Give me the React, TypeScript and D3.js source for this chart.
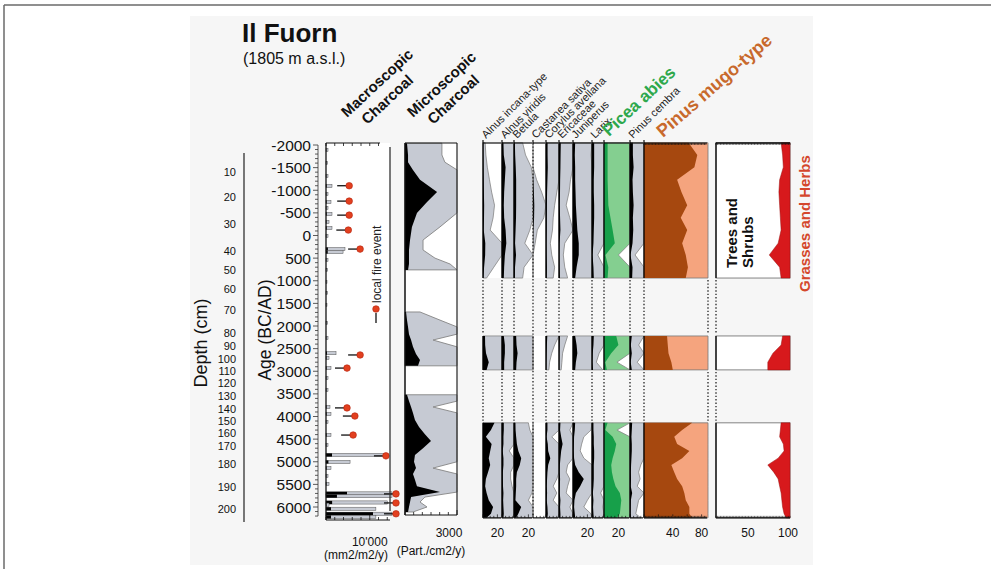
import * as d3 from 'd3'

const FONT = '"Liberation Sans", Arial, Helvetica, sans-serif'

// ---------- axis labels ----------
const ageTicks = [-2000, -1500, -1000, -500, 0, 500, 1000, 1500, 2000, 2500, 3000, 3500, 4000, 4500, 5000, 5500, 6000]
const depthTicks = [10, 20, 30, 40, 50, 60, 70, 80, 90, 100, 110, 120, 130, 140, 150, 160, 170, 180, 190, 200]
// age (BC/AD) at which each depth label sits
const depthTickAges = [-1400, -850, -250, 340, 760, 1180, 1640, 2155, 2440, 2720, 2995, 3270, 3545, 3825, 4100, 4375, 4650, 5050, 5560, 6040]

// ---------- macroscopic charcoal (mm2/m2/y) ----------
const macroAges = [-1890, -1600, -1315, -1095, -915, -740, -610, -475, -300, -165, 10, 300, 365, 540, 760, 1030, 1270, 1535, 1935, 2265, 2600, 2705, 2930, 3150, 3415, 3790, 3945, 4120, 4410, 4630, 4850, 5005, 5140, 5315, 5490, 5700, 5760, 5900, 5950, 6040, 6150, 6220]
const macroInflux = [46, 34, 46, 137, 46, 114, 46, 137, 69, 137, 46, 434, 390, 46, 34, 23, 34, 23, 34, 46, 229, 69, 114, 46, 46, 91, 114, 46, 114, 46, 1371, 550, 114, 46, 69, 4800, 2500, 1400, 69, 1140, 10740, 1140]
const fireAges = [-1100, -760, -450, -120, 300, 2640, 2930, 3810, 3990, 4410, 4870, 5710, 5910, 6150]
const firePeaks = [5300, 5300, 5300, 5100, 7800, 7800, 4800, 4800, 6600, 6200, 13700, 16000, 16000, 16000]

// ---------- microscopic charcoal (Part./cm2/y) ----------
const microAges = [-2040, -1780, -1620, -1450, -1230, -960, -740, -500, -190, 100, 320, 500, 630, 760,
  1690, 1870, 2020, 2180, 2310, 2460, 2620, 2750, 2880,
  3520, 3660, 3790, 3920, 4080, 4230, 4390, 4540, 4700, 4850, 5000, 5140, 5270, 5400, 5540, 5670, 5780, 5890, 6000, 6110]
const microInflux = [115, 175, 175, 460, 865, 1850, 1270, 690, 400, 290, 230, 230, 230, 175,
  60, 115, 175, 230, 350, 460, 635, 865, 750,
  115, 230, 350, 460, 575, 810, 1150, 1500, 1040, 575, 520, 635, 460, 575, 690, 2020, 350, 290, 230, 175]
const microConc = [2130, 2130, 2300, 3000, 3000, 3000, 3000, 3000, 2020, 1040, 1040, 1730, 2600, 3000,
  865, 2020, 3000, 3000, 1615, 3000, 3000, 3000, 3000,
  3000, 3000, 1615, 3000, 3000, 3000, 3000, 3000, 3000, 3000, 3000, 1615, 3000, 3000, 3000, 3000, 1150, 865, 1270, 460]

// ---------- pollen percentages ----------
const pollenAges = [-2050, -1780, -1510, -1230, -960, -670, -390, -120, 170, 430, 700, 940,
  2220, 2420, 2600, 2800, 2970,
  4140, 4300, 4450, 4610, 4760, 4920, 5070, 5230, 5380, 5540, 5690, 5850, 6000, 6150, 6240]
const alnusIncana = [0.3, 0.4, 0.6, 0.9, 1.2, 1.6, 1.4, 1.0, 3.2, 3.0, 1.5, 0.5, 2.8, 3, 4.2, 8, 5, 16, 11, 4, 12, 10, 8, 10, 7, 4, 3, 5, 8, 14, 11, 5]
const alnusViridis = [2, 2.5, 5, 4, 3, 2.5, 3, 5, 6, 4, 3, 2.5, 2.5, 4, 4, 3, 3, 2.5, 2.5, 2, 2, 1.0, 2, 2, 1.2, 1.2, 1.4, 2, 1.6, 2, 2.5, 2]
const betula = [1.2, 1.6, 2.4, 3, 3, 3, 2.8, 2.2, 1.5, 2.8, 1.4, 1.2, 3, 3.5, 5, 3.5, 3, 2, 2.2, 3, 4, 6, 10, 8, 4, 3, 3, 2.5, 2, 10, 6, 3]
const castanea = [0, 0, 0, 0.5, 1.2, 1.8, 1.5, 0.6, 0.3, 0, 0, 0, 0, 0, 0, 0, 0, 0, 0, 0, 0, 0, 0, 0, 0, 0, 0, 0, 0, 0, 0, 0]
const corylus = [2.2, 2.2, 2.5, 2, 1.5, 1.2, 1, 0.9, 0.6, 0.8, 1.2, 1, 1.8, 1.2, 0.8, 0.5, 0.4, 2, 2, 0.8, 2.5, 3, 6, 3, 2, 1.5, 1, 1.5, 1, 2, 2.5, 2]
const ericaceae = [2.5, 2.2, 2, 1.6, 1.4, 1.0, 1.5, 2, 0.8, 0.6, 0.8, 1.2, 1.2, 0.8, 0.5, 0.4, 0.3, 2, 1.5, 3, 5, 3, 2, 1.2, 1, 1.5, 1.2, 1, 2, 1.5, 2, 2]
const juniperus = [3, 2.5, 3, 3, 3.5, 4, 5, 6, 8, 8, 5, 3, 3, 5, 6, 4, 3, 3, 2.5, 1.5, 1.2, 1, 1.5, 3, 8, 15, 10, 4, 2, 1.5, 2.5, 3]
const larix = [3, 3, 3, 2.5, 2.5, 3, 3, 2.5, 2, 0.8, 2, 2.5, 2.5, 2, 1, 0.6, 1.5, 2, 2, 2.5, 2.5, 3, 3, 2.5, 2.5, 2.5, 2, 1.2, 2, 1.5, 2, 2.5]
const picea = [5, 5, 5, 5, 5.5, 6, 9, 12, 15, 2, 6, 5, 17, 20, 10, 1.8, 4, 5, 1.8, 12, 17, 15, 12, 10, 11, 13, 16, 22, 24, 23, 22, 18]
const pinusCembra = [4, 4, 5, 3.5, 4, 5, 4, 4.5, 3.5, 0.7, 3.5, 3, 2.5, 1.2, 2.5, 1, 2.5, 3, 2.5, 2, 2.5, 2.5, 2, 1.5, 1.2, 1.4, 1.0, 3, 1.2, 1, 0.8, 1.5]
const pinusMugo = [62, 74, 70, 46, 52, 60, 51, 60, 53, 58, 61, 58, 32, 33, 34, 38, 40, 67, 53, 42, 46, 63, 53, 38, 42, 46, 53, 56, 58, 63, 63, 67]
const herbs = [12, 10, 9, 14, 15, 14, 13, 12, 16, 28, 14, 12, 10, 12, 23, 30, 30, 12, 13, 14, 9, 8, 16, 30, 22, 16, 14, 12, 11, 10, 8, 5]

type Pt = [number, number]

function splitSections(ages: number[], values: number[]): Pt[][] {
  const out: Pt[][] = []
  ages.forEach((a, i) => {
    if (i === 0 || a - ages[i - 1] > 600) out.push([])
    out[out.length - 1].push([a, values[i]])
  })
  return out
}

const GRAY = '#c6cad3'
const GRAY_LINE = '#858585'

export default function App() {
  const y = d3.scaleLinear().domain([-2000, 6000]).range([145, 507])
  const macroX = d3.scaleLinear().domain([0, 16000]).range([326, 396])
  const microX = d3.scaleLinear().domain([0, 3000]).range([405, 457])
  const herbX = d3.scaleLinear().domain([0, 100]).range([716, 790])

  const vArea = (x0: (d: Pt) => number, x1: (d: Pt) => number) =>
    d3.area<Pt>().y(d => y(d[0])).x0(x0).x1(x1)

  const columns = [
    { name: 'Alnus incana-type', values: alnusIncana, left: 483, width: 19, label: '20' },
    { name: 'Alnus viridis', values: alnusViridis, left: 502, width: 12 },
    { name: 'Betula', values: betula, left: 514, width: 19, label: '20' },
    { name: 'Castanea sativa', values: castanea, left: 533, width: 13, dotted: true },
    { name: 'Corylus avellana', values: corylus, left: 546, width: 13 },
    { name: 'Ericaceae', values: ericaceae, left: 559, width: 14 },
    { name: 'Juniperus', values: juniperus, left: 573, width: 19, label: '20' },
    { name: 'Larix', values: larix, left: 592, width: 12 },
    { name: 'Picea abies', values: picea, left: 604, width: 26, label: '20', dark: '#17a04a', light: '#84cf90', big: '#2ea84c' },
    { name: 'Pinus cembra', values: pinusCembra, left: 630, width: 14 },
    { name: 'Pinus mugo-type', values: pinusMugo, left: 644, width: 64, dark: '#a6480f', light: '#f5a47e', big: '#c8692c', mugo: true },
  ]

  const pollenSecs = splitSections(pollenAges, pollenAges)
  const secExt = pollenSecs.map(s => [s[0][0], s[s.length - 1][0]])
  const bottomY = y(secExt[secExt.length - 1][1])
  const topY = 143

  const microSecs = splitSections(microAges, microAges.map((_, i) => i))

  const minorAges = d3.range(-2000, 6201, 100)

  return (
    <div style={{ position: 'absolute', left: 0, top: 0, width: 991, height: 569, background: '#fff' }}>
      <svg width={991} height={569} fontFamily={FONT}>
        <rect x={190} y={16} width={623} height={549} fill="#f6f6f6" />
        <line x1={4} y1={5} x2={991} y2={5} stroke="#6a6a6a" strokeWidth={1.5} />
        <line x1={4} y1={5} x2={4} y2={569} stroke="#6a6a6a" strokeWidth={1.5} />

        {/* title */}
        <text x={242} y={42} fontSize={26} fontWeight="bold" fill="#111">Il Fuorn</text>
        <text x={243} y={64} fontSize={16} fill="#111">(1805 m a.s.l.)</text>

        {/* depth axis */}
        <line x1={244} x2={244} y1={153} y2={522} stroke="#222" strokeWidth={1.2} />
        {depthTicks.map((d, i) => (
          <text key={'d' + d} x={236} y={y(depthTickAges[i])} dy="0.36em" fontSize={11} textAnchor="end" fill="#111">{d}</text>
        ))}
        <text transform={`translate(207,343) rotate(-90)`} fontSize={18} textAnchor="middle" fill="#111">Depth (cm)</text>

        {/* age axis */}
        <text transform={`translate(271,330) rotate(-90)`} fontSize={17.5} textAnchor="middle" fill="#111">Age (BC/AD)</text>
        <line x1={318} x2={318} y1={y(-2000)} y2={y(6200)} stroke="#333" strokeWidth={0.8} />
        {minorAges.map(a => (
          <line key={'m' + a} x1={a % 500 === 0 ? 313 : 315} x2={318} y1={y(a)} y2={y(a)} stroke="#333" strokeWidth={0.8} />
        ))}
        {ageTicks.map(a => (
          <text key={'a' + a} x={311} y={y(a)} dy="0.36em" fontSize={15.5} textAnchor="end" fill="#111">{a}</text>
        ))}

        {/* macroscopic charcoal */}
        <rect x={326} y={topY} width={64} height={520 - topY} fill="#fff" />
        {macroAges.map((a, i) => {
          const v = macroInflux[i]
          const gx = Math.min(macroX(v * 10), 392)
          return (
            <g key={'mc' + i}>
              <rect x={326} y={y(a) - 1.6} width={gx - 326} height={3.2} fill={GRAY} stroke="#555" strokeWidth={0.5} />
              <rect x={326} y={y(a) - 1.6} width={macroX(v) - 326} height={3.2} fill="#000" />
            </g>
          )
        })}
        {fireAges.map((a, i) => {
          const fx = macroX(firePeaks[i])
          return (
            <g key={'f' + i}>
              <line x1={fx - 12} x2={fx - 3} y1={y(a)} y2={y(a)} stroke="#111" strokeWidth={1.3} />
              <circle cx={fx} cy={y(a)} r={3.3} fill="#e2401f" stroke="#b3230f" strokeWidth={0.6} />
            </g>
          )
        })}
        <line x1={326} x2={326} y1={topY} y2={520} stroke="#111" strokeWidth={1.3} />
        <line x1={326} x2={380} y1={topY} y2={topY} stroke="#111" strokeWidth={1.2} />
        {d3.range(0, 12001, 2000).map(t => (
          <line key={'mt' + t} x1={macroX(t)} x2={macroX(t)} y1={topY} y2={topY + 3} stroke="#111" strokeWidth={0.8} />
        ))}
        <line x1={326} x2={390} y1={520} y2={520} stroke="#111" strokeWidth={1.2} />
        {d3.range(0, 14001, 2000).map(t => (
          <line key={'mb' + t} x1={macroX(t)} x2={macroX(t)} y1={520} y2={t === 10000 ? 515 : 517} stroke="#111" strokeWidth={0.8} />
        ))}
        <line x1={390} x2={390} y1={147} y2={511} stroke="#333" strokeWidth={1.3} />
        <text x={macroX(10000)} y={546} fontSize={12} textAnchor="middle" fill="#111">10'000</text>
        <text x={356} y={559} fontSize={12} textAnchor="middle" fill="#111">(mm2/m2/y)</text>
        <circle cx={376} cy={309} r={3.3} fill="#e2401f" stroke="#b3230f" strokeWidth={0.6} />
        <line x1={376} x2={376} y1={313} y2={323} stroke="#111" strokeWidth={1.3} />
        <text transform={`translate(381,303) rotate(-90)`} fontSize={12} fill="#222">local fire event</text>
        <text transform={`translate(347,118) rotate(-43)`} fontSize={15} fontWeight="bold" fill="#111">
          <tspan x={0} y={0}>Macroscopic</tspan>
          <tspan x={10} y={19}>Charcoal</tspan>
        </text>

        {/* microscopic charcoal */}
        <rect x={405} y={topY} width={52} height={515 - topY} fill="#fff" />
        {microSecs.map((s, k) => {
          const g = s.map(p => [p[0], microConc[p[1]]] as Pt)
          const b = s.map(p => [p[0], microInflux[p[1]]] as Pt)
          return (
            <g key={'mi' + k}>
              <path d={vArea(() => 405, d => microX(Math.min(d[1], 3000)))(g) || ''} fill={GRAY} stroke={GRAY_LINE} strokeWidth={0.9} />
              <path d={vArea(() => 405, d => microX(d[1]))(b) || ''} fill="#000" />
            </g>
          )
        })}
        <line x1={405} x2={405} y1={topY} y2={515} stroke="#111" strokeWidth={1.5} />
        <line x1={457} x2={457} y1={topY} y2={515} stroke="#333" strokeWidth={1.3} />
        <line x1={405} x2={457} y1={topY} y2={topY} stroke="#111" strokeWidth={1.2} />
        <line x1={405} x2={457} y1={515} y2={515} stroke="#111" strokeWidth={1.2} />
        {d3.range(0, 3001, 500).map(t => (
          <line key={'mit' + t} x1={microX(t)} x2={microX(t)} y1={515} y2={t === 3000 ? 510 : 512} stroke="#111" strokeWidth={0.8} />
        ))}
        <text x={449} y={537} fontSize={12} textAnchor="middle" fill="#111">3000</text>
        <text x={431} y={555} fontSize={12} textAnchor="middle" fill="#111">(Part./cm2/y)</text>
        <text transform={`translate(413,118) rotate(-43)`} fontSize={15} fontWeight="bold" fill="#111">
          <tspan x={0} y={0}>Microscopic</tspan>
          <tspan x={10} y={19}>Charcoal</tspan>
        </text>

        {/* pollen columns */}
        {secExt.map((e, k) => (
          <rect key={'pw' + k} x={483} y={y(e[0])} width={225} height={y(e[1]) - y(e[0])} fill="#fff" />
        ))}
        {columns.map(c => {
          const px = d3.scaleLinear().domain([0, 100]).range([c.left, c.left + 72])
          const right = c.left + c.width
          const secs = splitSections(pollenAges, c.values)
          const dark = c.dark || '#000'
          const light = c.light || GRAY
          return (
            <g key={c.name}>
              {secs.map((s, k) => (
                <g key={k}>
                  <path d={vArea(() => c.left, d => Math.min(px(d[1] * 10), right))(s) || ''} fill={light} stroke={c.mugo ? '#777' : GRAY_LINE} strokeWidth={0.8} />
                  <path d={vArea(() => c.left, d => px(d[1]))(s) || ''} fill={dark} />
                  {!c.dotted && (
                    <line x1={c.left} x2={c.left} y1={y(s[0][0])} y2={y(s[s.length - 1][0])} stroke="#000" strokeWidth={1.3} />
                  )}
                </g>
              ))}
              {c.dotted ? (
                <line x1={c.left} x2={c.left} y1={topY} y2={bottomY} stroke="#222" strokeWidth={1.3} strokeDasharray="1.4,2" />
              ) : (
                secExt.slice(1).map((e, k) => (
                  <line key={'gap' + k} x1={c.left} x2={c.left} y1={y(secExt[k][1]) + 2} y2={y(e[0]) - 2} stroke="#222" strokeWidth={1.3} strokeDasharray="1.4,2" />
                ))
              )}
              {c.mugo && secExt.slice(1).map((e, k) => (
                <line key={'gapr' + k} x1={right} x2={right} y1={y(secExt[k][1]) + 2} y2={y(e[0]) - 2} stroke="#222" strokeWidth={1.3} strokeDasharray="1.4,2" />
              ))}
              <line x1={c.left} x2={right - 1} y1={topY} y2={topY} stroke="#111" strokeWidth={1.2} />
              <line x1={c.left} x2={c.left} y1={topY - 3} y2={topY} stroke="#111" strokeWidth={1.2} />
              <line x1={c.left} x2={right - 1} y1={bottomY} y2={bottomY} stroke="#111" strokeWidth={1.2} />
              {d3.range(0, (c.width - 1) / 0.72, c.mugo ? 2 : 5).map(t => (
                <line key={'bt' + t} x1={px(t)} x2={px(t)} y1={bottomY} y2={bottomY - (t % 20 === 0 ? 3.5 : 2)} stroke="#111" strokeWidth={0.7} />
              ))}
              {c.mugo && d3.range(0, (c.width - 1) / 0.72, 2).map(t => (
                <line key={'tt' + t} x1={px(t)} x2={px(t)} y1={topY} y2={topY + 2} stroke="#111" strokeWidth={0.7} />
              ))}
              {c.label && <text x={px(20)} y={537} fontSize={12} textAnchor="middle" fill="#111">{c.label}</text>}
              {c.mugo && ['40', '80'].map(l => (
                <text key={l} x={px(+l)} y={537} fontSize={12} textAnchor="middle" fill="#111">{l}</text>
              ))}
              {c.big ? (
                <text transform={c.mugo ? `translate(663,138) rotate(-41)` : `translate(609,137) rotate(-43)`}
                  fontSize={c.mugo ? 18 : 17} fontWeight="bold" fill={c.big}>{c.name}</text>
              ) : (
                <text transform={`translate(${c.left + 3},139) rotate(-45)`} fontSize={11} fill="#222">{c.name}</text>
              )}
            </g>
          )
        })}

        {/* trees and shrubs / grasses and herbs */}
        {splitSections(pollenAges, herbs).map((s, k) => (
          <g key={'h' + k}>
            <rect x={716} y={y(s[0][0])} width={74} height={y(s[s.length - 1][0]) - y(s[0][0])} fill="#fff" stroke="#777" strokeWidth={0.9} />
            <path d={vArea(d => herbX(100 - d[1]), () => herbX(100))(s) || ''} fill="#d7191c" stroke="#9a1010" strokeWidth={0.5} />
            <line x1={716} x2={716} y1={y(s[0][0])} y2={y(s[s.length - 1][0])} stroke="#000" strokeWidth={1.3} />
          </g>
        ))}
        {secExt.slice(1).map((e, k) => (
          <line key={'hg' + k} x1={716} x2={716} y1={y(secExt[k][1]) + 2} y2={y(e[0]) - 2} stroke="#222" strokeWidth={1.3} strokeDasharray="1.4,2" />
        ))}
        <line x1={716} x2={790} y1={topY} y2={topY} stroke="#111" strokeWidth={1.4} />
        <line x1={716} x2={790} y1={bottomY} y2={bottomY} stroke="#111" strokeWidth={1.2} />
        {d3.range(0, 101, 2).map(t => (
          <g key={'ht' + t}>
            <line x1={herbX(t)} x2={herbX(t)} y1={topY} y2={topY + 2} stroke="#111" strokeWidth={0.6} />
            <line x1={herbX(t)} x2={herbX(t)} y1={bottomY} y2={bottomY - 2} stroke="#111" strokeWidth={0.6} />
          </g>
        ))}
        {['50', '100'].map(l => (
          <text key={l} x={herbX(+l) - (l === '50' ? 5 : 2)} y={537} fontSize={12} textAnchor="middle" fill="#111">{l}</text>
        ))}
        <text transform={`translate(737,268) rotate(-90)`} fontSize={15} fontWeight="bold" fill="#111">
          <tspan x={0} y={0}>Trees and</tspan>
          <tspan x={0} y={16}>Shrubs</tspan>
        </text>
        <text transform={`translate(810,292) rotate(-90)`} fontSize={15} fontWeight="bold" fill="#d4472c">Grasses and Herbs</text>
      </svg>
    </div>
  )
}
